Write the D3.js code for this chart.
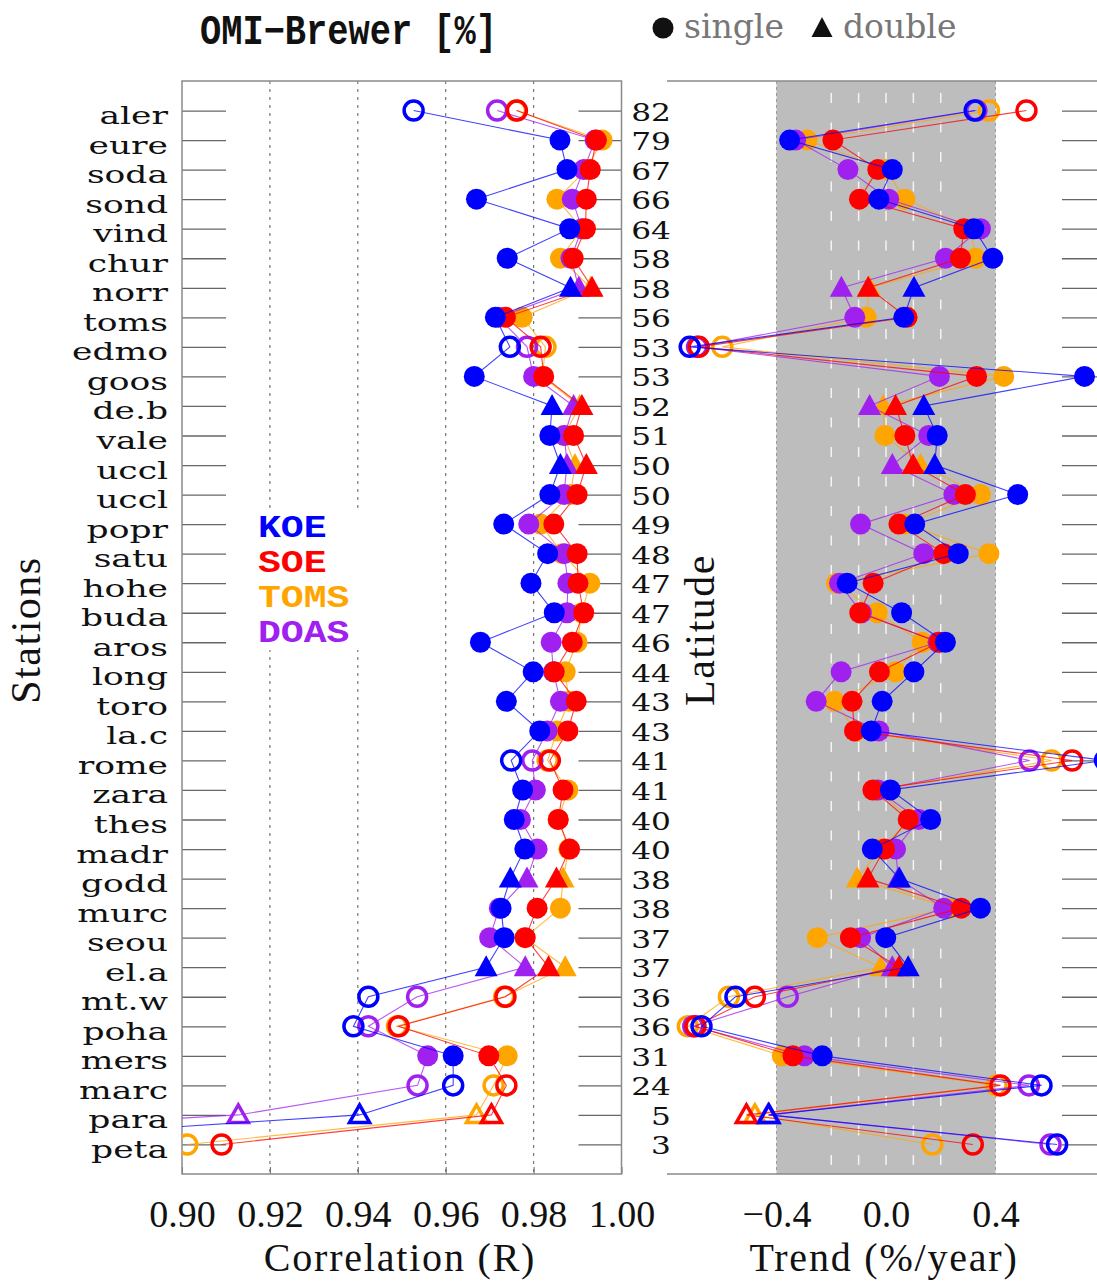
<!DOCTYPE html>
<html><head><meta charset="utf-8">
<script src="https://cdn.jsdelivr.net/npm/d3@7"></script>
<style>body{margin:0;background:#fff}svg{display:block}</style>
</head><body>
<svg id="c" width="1097" height="1282"></svg>
<script>
// ---------------- data ----------------
const stations = ["aler","eure","soda","sond","vind","chur","norr","toms","edmo","goos","de.b","vale","uccl","uccl","popr","satu","hohe","buda","aros","long","toro","la.c","rome","zara","thes","madr","godd","murc","seou","el.a","mt.w","poha","mers","marc","para","peta"];
const latitudes = [82,79,67,66,64,58,58,56,53,53,52,51,50,50,49,48,47,47,46,44,43,43,41,41,40,40,38,38,37,37,36,36,31,24,5,3];
const measurement = ["single","single","single","single","single","single","double","single","single","single","double","single","double","single","single","single","single","single","single","single","single","single","single","single","single","single","double","single","single","double","single","single","single","single","double","single"];
const hollow = [true,false,false,false,false,false,false,false,true,false,false,false,false,false,false,false,false,false,false,false,false,false,true,false,false,false,false,false,false,false,true,true,false,true,true,true];

const corrKOE  = [0.9527,0.9860,0.9876,0.9670,0.9882,0.9740,0.9884,0.9713,0.9746,0.9665,0.9842,0.9837,0.9861,0.9837,0.9732,0.9832,0.9794,0.9847,0.9679,0.9799,0.9738,0.9814,0.9749,0.9775,0.9756,0.9780,0.9747,0.9726,0.9733,0.9692,0.9424,0.9390,0.9617,0.9617,0.9404,0.837];
const corrSOE  = [0.9762,0.9943,0.9929,0.9920,0.9918,0.9890,0.9933,0.9736,0.9816,0.9823,0.9910,0.9891,0.9920,0.9899,0.9846,0.9899,0.9901,0.9914,0.9888,0.9847,0.9897,0.9878,0.9837,0.9867,0.9856,0.9882,0.9852,0.9808,0.9781,0.9834,0.9736,0.9493,0.9698,0.9738,0.9704,0.9090];
const corrTOMS = [0.9760,0.9956,0.9920,0.9853,0.9910,0.9861,0.9930,0.9774,0.9827,0.9820,0.9905,0.9869,0.9894,0.9884,0.9816,0.9865,0.9928,0.9910,0.9899,0.9872,0.9880,0.9853,0.9832,0.9878,0.9856,0.9880,0.9867,0.9861,0.9780,0.9872,0.9733,0.9489,0.9740,0.9709,0.9670,0.9012];
const corrDOAS = [0.9717,0.9940,0.9914,0.9888,0.9910,0.9885,0.9903,0.9720,0.9785,0.9800,0.9891,0.9870,0.9876,0.9869,0.9789,0.9870,0.9878,0.9876,0.9840,0.9845,0.9861,0.9831,0.9797,0.9804,0.9770,0.9808,0.9785,0.9722,0.9700,0.9781,0.9535,0.9424,0.9559,0.9536,0.9128,0.795];

const trendKOE  = [0.324,-0.352,0.023,-0.026,0.321,0.390,0.102,0.065,-0.717,0.725,0.138,0.187,0.178,0.481,0.105,0.264,-0.142,0.057,0.217,0.102,-0.014,-0.054,0.80,0.016,0.163,-0.050,0.049,0.345,-0.001,0.081,-0.550,-0.674,-0.233,0.568,-0.428,0.625];
const trendSOE  = [0.513,-0.194,-0.030,-0.097,0.284,0.272,-0.065,0.077,-0.684,0.331,0.035,0.069,0.099,0.290,0.047,0.211,-0.047,-0.096,0.195,-0.024,-0.124,-0.115,0.680,-0.048,0.081,-0.005,-0.066,0.275,-0.130,0.047,-0.479,-0.696,-0.340,0.418,-0.510,0.317];
const trendTOMS = [0.376,-0.288,0.000,0.069,0.310,0.327,-0.060,-0.072,-0.598,0.430,-0.010,-0.004,0.126,0.345,0.070,0.376,-0.181,-0.032,0.132,0.035,-0.188,-0.110,0.605,-0.030,0.090,-0.020,-0.105,0.236,-0.251,-0.020,-0.574,-0.724,-0.379,0.404,-0.479,0.169];
const trendDOAS = [0.330,-0.330,-0.139,0.010,0.345,0.217,-0.163,-0.114,-0.690,0.195,-0.060,0.156,0.023,0.248,-0.093,0.138,-0.170,-0.090,0.190,-0.164,-0.255,-0.026,0.525,-0.030,0.120,0.035,0.045,0.211,-0.093,0.023,-0.359,-0.704,-0.298,0.522,-0.430,0.601];

const seriesOrder = ["TOMS","DOAS","SOE","KOE"];       // drawing order
const legendOrder = ["KOE","SOE","TOMS","DOAS"];
const corrTicks  = [0.90,0.92,0.94,0.96,0.98,1.00];
const corrGrid   = [0.92,0.94,0.96,0.98];
const trendTicks = [-0.4,0.0,0.4];
const trendGrid  = [-0.2,-0.1,0.0,0.1,0.2];

const corrData  = {KOE:corrKOE, SOE:corrSOE, TOMS:corrTOMS, DOAS:corrDOAS};
const trendData = {KOE:trendKOE, SOE:trendSOE, TOMS:trendTOMS, DOAS:trendDOAS};
const colour = {KOE:"#0000ff", SOE:"#ff0000", TOMS:"#ffa500", DOAS:"#a020f0"};

// ---------------- layout ----------------
const svg = d3.select("#c");
const T = 81, B = 1174;
const y  = d3.scaleLinear().domain([0, stations.length + 1]).range([T, B]);
const xL = d3.scaleLinear().domain([0.90, 1.00]).range([182, 621.5]);
const xR = d3.scaleLinear().domain([-0.8, 0.8]).range([667, 1105]);
const rows = stations.map((s, i) => i + 1);
const frame = "#8a8a8a", tickCol = "#666";

const defs = svg.append("defs");
defs.append("clipPath").attr("id","clipL").append("rect")
  .attr("x",182).attr("y",T).attr("width",621.5-182).attr("height",B-T);
defs.append("clipPath").attr("id","clipR").append("rect")
  .attr("x",667).attr("y",T).attr("width",1105-667).attr("height",B-T);

// ---------- left panel ----------
const gl = svg.append("g");
gl.selectAll("line.grid").data(corrGrid).join("line")
  .attr("x1", d => xL(d)).attr("x2", d => xL(d)).attr("y1", T).attr("y2", B)
  .attr("stroke", "#777").attr("stroke-width", 1.2).attr("stroke-dasharray", "3,5");

gl.append("rect").attr("x",252).attr("y",508).attr("width",108).attr("height",142).attr("fill","#fff");

const axL = gl.append("g").attr("transform","translate(182,0)")
  .call(d3.axisLeft(y).tickValues(rows).tickSize(-44).tickFormat(""));
const axL2 = gl.append("g").attr("transform","translate(621.5,0)")
  .call(d3.axisRight(y).tickValues(rows).tickSize(-43).tickFormat(""));
[axL, axL2].forEach(a => { a.select(".domain").remove(); a.selectAll("line").attr("stroke", tickCol).attr("stroke-width",1.3); });

const axB = gl.append("g").attr("transform",`translate(0,${B})`)
  .call(d3.axisBottom(xL).tickValues(corrTicks).tickSize(-7).tickFormat(d3.format(".2f")));
axB.select(".domain").remove();
axB.selectAll("line").attr("stroke", tickCol);
axB.selectAll("text").attr("y", 53).attr("dy", 0)
  .attr("font-family","Liberation Serif").attr("font-size", 38).attr("fill","#111");

gl.append("rect").attr("x",182).attr("y",T).attr("width",621.5-182).attr("height",B-T)
  .attr("fill","none").attr("stroke",frame).attr("stroke-width",1.5);

// station labels
gl.append("g").attr("transform","translate(168,0) scale(1.38,1)")
  .append("text").attr("text-anchor","end")
  .attr("font-family","DejaVu Serif").attr("font-size",25).attr("fill","#111")
  .selectAll("tspan").data(stations).join("tspan")
  .attr("x", 0).attr("y", (d,i) => y(i+1) + 13.5).text(d => d);

// ---------- right panel ----------
const gr = svg.append("g");
gr.append("rect").attr("x", xR(-0.4)).attr("y", T).attr("width", xR(0.4)-xR(-0.4)).attr("height", B-T)
  .attr("fill", "#bdbdbd");
gr.selectAll("line.wg").data(trendGrid).join("line")
  .attr("x1", d => xR(d)).attr("x2", d => xR(d)).attr("y1", T).attr("y2", B)
  .attr("stroke", "#f4f4f4").attr("stroke-width", 1.5).attr("stroke-dasharray", "10,19.5")
  .attr("stroke-dashoffset", -12);
gr.selectAll("line.eg").data([-0.4, 0.4]).join("line")
  .attr("x1", d => xR(d)).attr("x2", d => xR(d)).attr("y1", T).attr("y2", B)
  .attr("stroke", "#9a9a9a").attr("stroke-width", 1).attr("stroke-dasharray", "3,3");

const axR2 = gr.append("g").attr("transform","translate(1105,0)")
  .call(d3.axisRight(y).tickValues(rows).tickSize(-43).tickFormat(""));
axR2.select(".domain").remove();
axR2.selectAll("line").attr("stroke", tickCol).attr("stroke-width",1.3);

gr.append("line").attr("x1",667).attr("x2",1105).attr("y1",T).attr("y2",T).attr("stroke",frame).attr("stroke-width",1.5);
gr.append("line").attr("x1",667).attr("x2",1105).attr("y1",B).attr("y2",B).attr("stroke",frame).attr("stroke-width",1.5);

const axRB = gr.append("g").attr("transform",`translate(0,${B})`)
  .call(d3.axisBottom(xR).tickValues(trendTicks).tickSize(0)
    .tickFormat(d => (d < 0 ? "\u2212" : "") + d3.format(".1f")(Math.abs(d))));
axRB.select(".domain").remove();
axRB.selectAll("text").attr("y", 53).attr("dy", 0)
  .attr("font-family","Liberation Serif").attr("font-size", 38).attr("fill","#111");

// latitude labels
gr.append("g").attr("transform","translate(671,0) scale(1.25,1)")
  .append("text").attr("text-anchor","end")
  .attr("font-family","DejaVu Serif").attr("font-size",25).attr("fill","#111")
  .selectAll("tspan").data(latitudes).join("tspan")
  .attr("x", 0).attr("y", (d,i) => y(i+1) + 10).text(d => d);

// ---------- markers ----------
function triPath(big) {
  return big ? "M0,-12L11.5,9L-11.5,9Z" : "M0,-10L10,7.5L-10,7.5Z";
}
function drawSeries(g, scale, dataMap, clipId) {
  const layer = g.append("g").attr("clip-path", `url(#${clipId})`);
  seriesOrder.forEach(name => {
    const vals = dataMap[name];
    const pts = vals.map((v, i) => ({v, i}));
    const c = colour[name];
    layer.append("path").datum(pts)
      .attr("d", d3.line().x(d => scale(d.v)).y(d => y(d.i + 1)))
      .attr("fill","none").attr("stroke", c).attr("stroke-width", 1.1).attr("stroke-opacity", 0.75);
    const m = layer.append("g");
    pts.forEach(p => {
      const cx = scale(p.v), cy = y(p.i + 1);
      const isHollow = hollow[p.i];
      if (measurement[p.i] === "double") {
        m.append("path").attr("d", triPath(!isHollow))
          .attr("transform", `translate(${cx},${cy})`)
          .attr("fill", isHollow ? "none" : c)
          .attr("stroke", isHollow ? c : "none").attr("stroke-width", 3.5);
      } else {
        m.append("circle").attr("cx", cx).attr("cy", cy)
          .attr("r", isHollow ? 9.5 : 10.5)
          .attr("fill", isHollow ? "none" : c)
          .attr("stroke", isHollow ? c : "none").attr("stroke-width", 3.5);
      }
    });
  });
}
drawSeries(gl, xL, corrData, "clipL");
drawSeries(gr, xR, trendData, "clipR");

// ---------- legend ----------
gl.append("g").attr("transform","translate(258,0) scale(1.25,1)")
  .append("text")
  .attr("font-family","Liberation Mono").attr("font-weight","bold").attr("font-size",30.5)
  .selectAll("tspan").data(legendOrder).join("tspan")
  .attr("x", 0).attr("y", (d,i) => 537 + i*35)
  .attr("fill", d => colour[d]).text(d => d);

// ---------- titles ----------
svg.append("text").attr("x",200).attr("y",44).attr("textLength",297).attr("lengthAdjust","spacingAndGlyphs")
  .attr("font-family","Liberation Mono").attr("font-weight","bold").attr("font-size",42).attr("fill","#111")
  .text("OMI\u2212Brewer [%]");

svg.append("circle").attr("cx",663).attr("cy",28).attr("r",10.5).attr("fill","#111");
svg.append("text").attr("x",684).attr("y",38).attr("font-family","DejaVu Serif").attr("font-size",33)
  .attr("fill","#777").text("single");
svg.append("path").attr("d","M0,-11L10.5,9L-10.5,9Z").attr("transform","translate(822,28)").attr("fill","#111");
svg.append("text").attr("x",843).attr("y",38).attr("font-family","DejaVu Serif").attr("font-size",33)
  .attr("fill","#777").text("double");

svg.append("text").attr("transform","translate(40,630) rotate(-90)").attr("text-anchor","middle")
  .attr("font-family","Liberation Serif").attr("font-size",42).attr("letter-spacing",1.5).attr("fill","#111").text("Stations");
svg.append("text").attr("transform","translate(714,630) rotate(-90)").attr("text-anchor","middle")
  .attr("font-family","Liberation Serif").attr("font-size",42).attr("letter-spacing",1.5).attr("fill","#111").text("Latitude");

svg.append("text").attr("x",400).attr("y",1271).attr("text-anchor","middle")
  .attr("font-family","Liberation Serif").attr("font-size",40).attr("letter-spacing",1.8).attr("fill","#111").text("Correlation (R)");
svg.append("text").attr("x",884).attr("y",1271).attr("text-anchor","middle")
  .attr("font-family","Liberation Serif").attr("font-size",40).attr("letter-spacing",1.8).attr("fill","#111").text("Trend (%/year)");
</script>
</body></html>
